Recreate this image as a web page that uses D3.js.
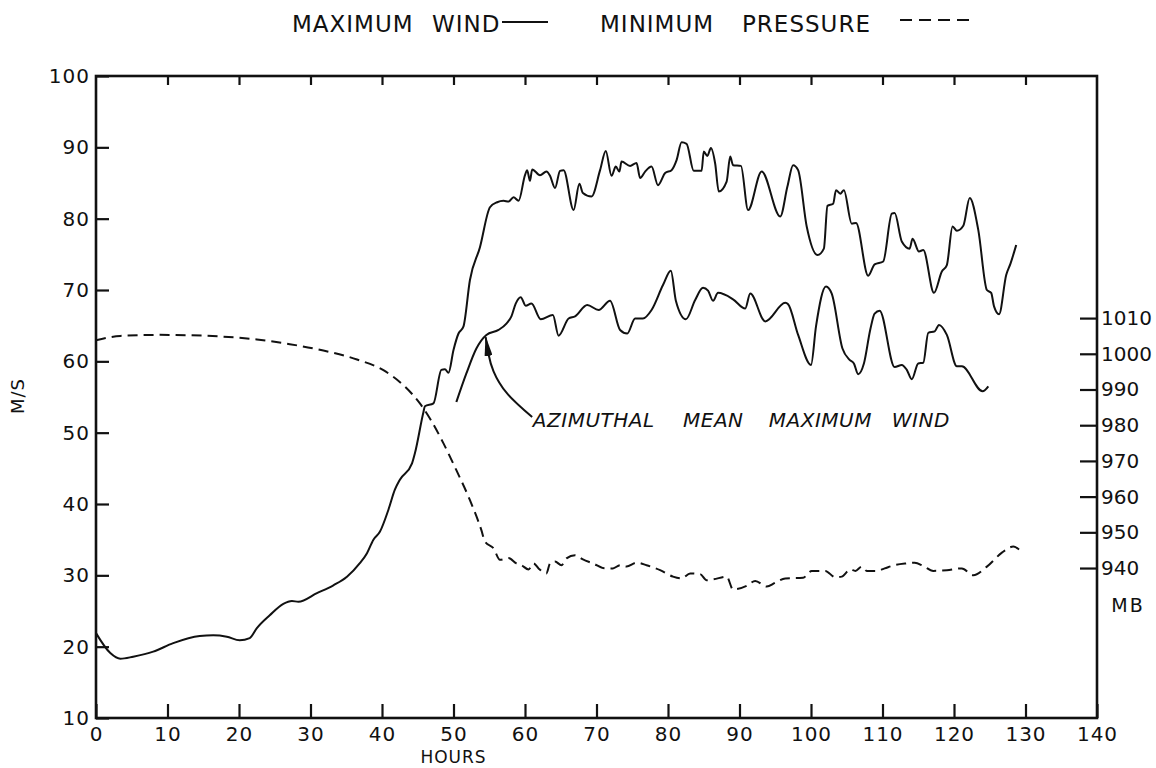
<!DOCTYPE html>
<html lang="en">
<head>
<meta charset="UTF-8">
<title>Maximum wind / minimum pressure</title>
<style>
    body { margin: 0; background: #fff; }
    svg { display: block; }
    text { font-family: "DejaVu Sans", sans-serif; fill: #111; }
    .tick text { font-size: 20px; letter-spacing: 1px; }
    .right .tick text { letter-spacing: 0; }
    .tick line { stroke: #111; stroke-width: 2.2px; }
    .domain { display: none; }
    .curve { fill: none; stroke: #111; stroke-width: 2px; stroke-linejoin: round; }
</style>
</head>
<body>
<svg id="chart" width="1156" height="768"></svg>
<script src="https://d3js.org/d3.v7.min.js"></script>
<script>
// hours / max wind (m/s)
const windHours = [0, 2, 3.4, 5.2, 8, 10.8, 14.5, 16.4, 18.3, 20.1, 21.5, 22.5, 24.3, 26.2, 27.4, 28.3,
    30.9, 33.2, 35.1, 36.9, 37.9, 38.8, 39.7, 40.9, 41.8, 42.5, 44.2, 44.6, 45.8, 46.0, 47.2, 48.3,
    48.8, 49.3, 50.0, 50.7, 51.4, 52.3, 53.7, 55.1, 56.1, 57.0, 57.7, 58.4, 59.1, 60.0, 60.3, 60.7,
    61.0, 62.1, 63.0, 63.5, 64.2, 64.9, 65.4, 66.8, 67.6, 68.1, 69.3, 70.5, 71.3, 72.1, 72.7, 73.2,
    73.5, 74.7, 75.6, 76.1, 76.8, 77.7, 78.6, 79.6, 80.5, 81.2, 81.9, 82.6, 83.6, 84.7, 85.0, 85.5,
    86.0, 86.6, 87.1, 88.2, 88.7, 89.1, 90.2, 91.2, 93.1, 95.7, 96.7, 97.5, 98.2, 99.4, 100.9, 101.8,
    102.3, 103.1, 103.5, 104.1, 104.6, 105.7, 106.3, 108.0, 108.9, 110.1, 111.3, 111.7, 112.7, 113.8,
    114.2, 115.1, 115.7, 117.2, 118.3, 119.0, 119.8, 120.4, 121.3, 122.2, 123.4, 124.6, 125.2, 125.6,
    126.3, 127.3, 127.9, 128.7];
const windMax = [21.9, 19.1, 18.3, 18.6, 19.3, 20.5, 21.5, 21.6, 21.4, 20.9, 21.2, 22.6, 24.4, 26.0, 26.4, 26.3,
    27.5, 28.6, 29.8, 31.7, 33.1, 35.0, 36.1, 39.2, 42.0, 43.4, 45.7, 47.1, 52.9, 53.7, 54.1, 58.8,
    58.9, 58.4, 61.6, 63.9, 64.9, 71.4, 76.0, 81.6, 82.3, 82.5, 82.4, 83.0, 82.5, 86.1, 86.8, 85.3,
    86.9, 86.1, 86.6, 86.0, 84.3, 86.7, 86.8, 81.2, 84.9, 83.6, 83.1, 86.8, 89.5, 86.0, 87.3, 86.6,
    88.0, 87.4, 87.8, 85.7, 86.6, 87.3, 84.7, 86.4, 86.8, 88.2, 90.7, 90.5, 86.7, 86.7, 89.4, 88.8,
    89.9, 87.7, 83.8, 85.2, 88.7, 87.5, 87.4, 81.2, 86.6, 80.3, 84.5, 87.5, 86.8, 78.9, 74.9, 75.8,
    81.8, 82.1, 84.0, 83.5, 84.0, 79.3, 79.4, 72.0, 73.6, 74.0, 80.7, 80.8, 76.8, 75.8,
    77.2, 75.4, 75.6, 69.6, 72.6, 73.5, 78.9, 78.3, 79.0, 82.9, 78.4, 70.0, 69.6, 67.7,
    66.6, 72.1, 73.7, 76.3];

// hours / azimuthal mean maximum wind (m/s)
const meanHours = [50.4, 51.8, 53.2, 54.6, 56.3, 57.4, 58.1, 58.7, 59.4, 60.1, 60.9, 62.2, 63.9, 64.7,
    66.1, 67.0, 68.7, 70.3, 71.9, 73.3, 74.3, 75.4, 76.5, 77.7, 79.3, 80.4, 81.1, 82.5, 83.8, 84.9,
    85.6, 86.3, 87.0, 89.1, 90.8, 91.5, 93.6, 96.4, 96.8, 98.2, 100.0, 100.7, 102.1, 102.9, 104.4,
    105.4, 106.0, 106.6, 107.4, 108.3, 108.9, 109.6, 111.7, 112.7, 113.4, 114.1, 115.0, 115.7, 116.4,
    117.3, 117.9, 119.0, 120.4, 121.1, 124.0, 124.8];
const meanWind = [54.3, 58.3, 61.8, 63.7, 64.4, 65.3, 66.3, 68.1, 69.0, 67.8, 68.1, 65.9, 66.5, 63.6,
    66.0, 66.3, 67.9, 67.2, 68.5, 64.4, 63.9, 66.0, 66.0, 67.2, 70.7, 72.7, 68.5, 65.9, 68.6, 70.3,
    69.9, 68.5, 69.6, 68.7, 67.4, 69.5, 65.6, 68.2, 68.0, 63.7, 59.5, 64.9, 70.5, 69.5, 61.8,
    60.2, 59.7, 58.2, 59.7, 64.5, 66.7, 67.1, 59.2, 59.5, 58.8, 57.5, 59.7, 59.8, 64.0,
    64.2, 65.1, 63.7, 59.3, 59.3, 55.8, 56.5];

// hours / minimum pressure (mb)
const presHours = [0, 3.4, 8.5, 13.1, 17.8, 22.5, 27.1, 31.8, 36.5, 40.2, 43.0, 45.3, 46.7, 48.6, 50.4,
    52.3, 53.9, 54.4, 55.6, 56.5, 57.7, 58.8, 59.5, 60.5, 61.2, 61.9, 63.0, 63.5, 64.2, 65.1, 65.8,
    67.0, 68.1, 69.5, 71.2, 72.3, 73.3, 74.2, 75.6, 77.0, 78.9, 80.7, 81.9, 83.1, 84.5, 85.4, 86.3,
    88.2, 89.1, 91.0, 92.2, 93.8, 95.0, 96.4, 98.9, 100.1, 102.0, 103.4, 104.3, 105.5, 106.2, 107.1,
    107.8, 109.2, 110.3, 111.7, 113.4, 114.5, 115.7, 117.1, 119.0, 121.1, 122.7, 124.6, 126.7, 128.3, 129.1];
const presMin = [1003.8, 1005.0, 1005.3, 1005.2, 1004.8, 1004.0, 1002.7, 1000.9, 998.4, 995.4, 991.2, 986.1, 981.9, 974.9, 967.4,
    959.0, 950.6, 947.4, 945.5, 942.3, 942.8, 941.3, 940.8, 939.6, 941.3, 939.9, 938.5, 941.3, 941.8, 940.8, 942.7,
    943.6, 942.4, 941.3, 939.9, 939.9, 940.8, 940.4, 941.5, 940.8, 939.4, 937.6, 937.1, 938.5, 938.3, 936.6, 936.8,
    937.6, 934.0, 935.0, 936.4, 934.8, 935.9, 937.1, 937.3, 939.2, 939.2, 937.4, 937.6, 939.6, 939.2, 940.4,
    939.2, 939.2, 939.9, 940.8, 941.3, 941.5, 940.6, 939.2, 939.4, 939.9, 938.0, 940.4, 944.3, 946.0, 945.2];

const hourTicks = [0, 10, 20, 30, 40, 50, 60, 70, 80, 90, 100, 110, 120, 130, 140];
const windTicks = [10, 20, 30, 40, 50, 60, 70, 80, 90, 100];
const presTicks = [940, 950, 960, 970, 980, 990, 1000, 1010];
const noteWords = ['AZIMUTHAL', 'MEAN', 'MAXIMUM', 'WIND'];
const noteHours = [61.1, 82.1, 94.1, 111.3];
// arrow from the note up to the mean-wind curve
const arrowHours = [61.0, 57.5, 55.6, 54.9, 54.5];
const arrowWind = [52.2, 55.5, 58.6, 61.0, 63.4];
// title words and where each starts
const titleWords = ['MAXIMUM', 'WIND', 'MINIMUM', 'PRESSURE'];
const titleStarts = [292, 432, 600, 742];

const svg = d3.select('#chart');

const x = d3.scaleLinear().domain([0, 140]).range([96, 1097]);
const y = d3.scaleLinear().domain([10, 100]).range([718, 76]);
const yP = d3.scaleLinear().domain([898, 1077.8]).range([718, 76]);

// axes, ticks pointing inward
svg.append('g')
    .attr('transform', `translate(${x(0)},0)`)
    .call(d3.axisLeft(y).tickValues(windTicks).tickSizeInner(-13).tickSizeOuter(0).tickPadding(6));

svg.append('g')
    .attr('transform', `translate(0,${y(10)})`)
    .call(d3.axisBottom(x).tickValues(hourTicks).tickSizeInner(-14).tickSizeOuter(0).tickPadding(9));

svg.append('g')
    .attr('transform', `translate(0,${y(100)})`)
    .call(d3.axisTop(x).tickValues(hourTicks.slice(1, -1)).tickSizeInner(-9).tickSizeOuter(0).tickFormat(''));

svg.append('g')
    .attr('class', 'right')
    .attr('transform', `translate(${x(140)},0)`)
    .call(d3.axisRight(yP).tickValues(presTicks).tickFormat(d3.format('d'))
        .tickSizeInner(-17).tickSizeOuter(0).tickPadding(4));

svg.append('rect')
    .attr('x', x(0)).attr('y', y(100))
    .attr('width', x(140) - x(0)).attr('height', y(10) - y(100))
    .attr('fill', 'none').attr('stroke', '#111').attr('stroke-width', 2.6);

// series
const windLine = d3.line().x(d => x(d[0])).y(d => y(d[1])).curve(d3.curveMonotoneX);
const presLine = d3.line().x(d => x(d[0])).y(d => yP(d[1])).curve(d3.curveMonotoneX);

svg.append('path').attr('class', 'curve')
    .attr('d', windLine(d3.zip(windHours, windMax)));

svg.append('path').attr('class', 'curve')
    .attr('d', windLine(d3.zip(meanHours, meanWind)));

svg.append('path').attr('class', 'curve')
    .attr('stroke-dasharray', '10,6')
    .attr('d', presLine(d3.zip(presHours, presMin)));

// annotation
svg.append('defs').append('marker')
    .attr('id', 'head')
    .attr('viewBox', '0 0 20 8')
    .attr('refX', 19).attr('refY', 4)
    .attr('markerWidth', 20).attr('markerHeight', 8)
    .attr('markerUnits', 'userSpaceOnUse')
    .attr('orient', 'auto')
    .append('path').attr('d', 'M0,0 L20,4 L0,8 Z').attr('fill', '#111');

svg.append('path').attr('class', 'curve')
    .attr('stroke-width', 1.6)
    .attr('marker-end', 'url(#head)')
    .attr('d', d3.line().x(d => x(d[0])).y(d => y(d[1])).curve(d3.curveNatural)(d3.zip(arrowHours, arrowWind)));

svg.append('g').selectAll('text')
    .data(d3.zip(noteWords, noteHours))
    .enter().append('text')
    .attr('x', d => x(d[1]))
    .attr('y', y(50.8))
    .attr('font-size', 20)
    .attr('font-style', 'italic')
    .attr('letter-spacing', 0.5)
    .text(d => d[0]);

// axis titles
svg.append('text')
    .attr('transform', 'translate(24,396) rotate(-90)')
    .attr('text-anchor', 'middle')
    .attr('font-size', 18)
    .attr('letter-spacing', 1)
    .text('M/S');

svg.append('text')
    .attr('x', x(50)).attr('y', 763)
    .attr('text-anchor', 'middle')
    .attr('font-size', 17)
    .attr('letter-spacing', 1)
    .text('HOURS');

svg.append('text')
    .attr('x', 1128).attr('y', 612)
    .attr('text-anchor', 'middle')
    .attr('font-size', 19)
    .attr('letter-spacing', 2)
    .text('MB');

// legend / title
svg.append('g').selectAll('text')
    .data(d3.zip(titleWords, titleStarts))
    .enter().append('text')
    .attr('x', d => d[1]).attr('y', 32)
    .attr('font-size', 23)
    .attr('letter-spacing', 1)
    .text(d => d[0]);

svg.append('line')
    .attr('x1', 502).attr('x2', 548).attr('y1', 22).attr('y2', 22)
    .attr('stroke', '#111').attr('stroke-width', 2);

svg.append('line')
    .attr('x1', 900).attr('x2', 972).attr('y1', 20).attr('y2', 20)
    .attr('stroke', '#111').attr('stroke-width', 2)
    .attr('stroke-dasharray', '12,7');
</script>
</body>
</html>
